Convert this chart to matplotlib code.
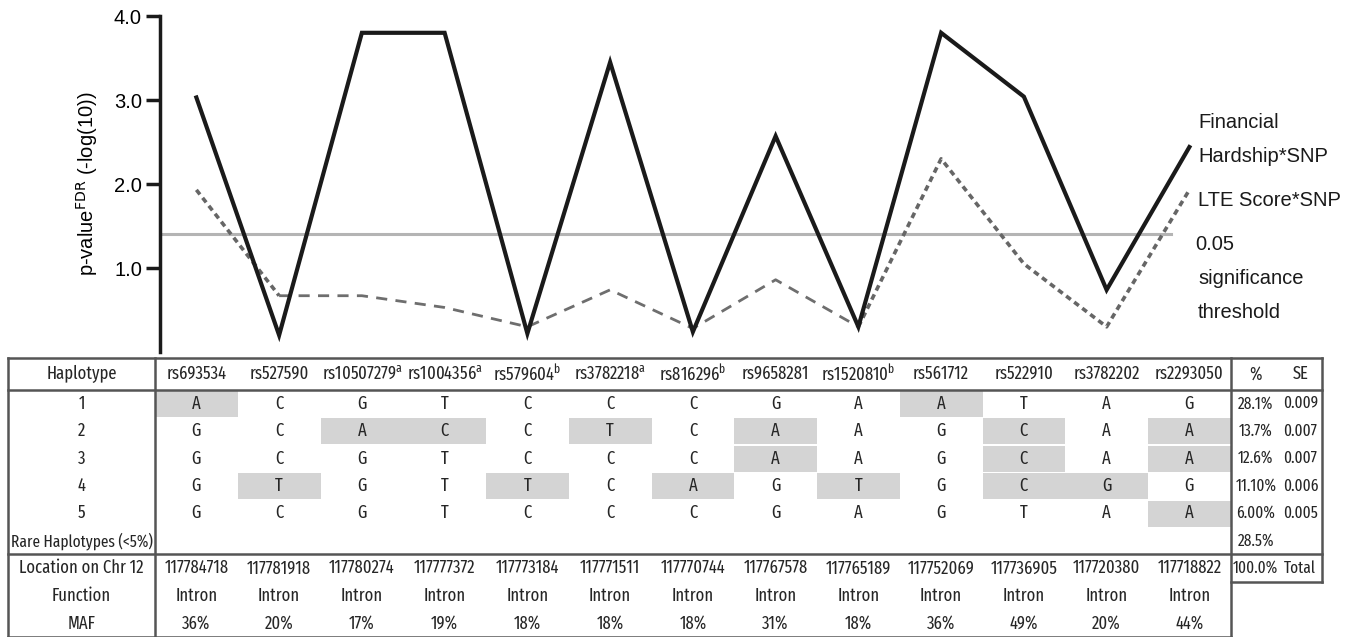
import numpy as np
import matplotlib
matplotlib.use("Agg")
import matplotlib.pyplot as plt
from matplotlib.patches import Rectangle

# ---- data ----
snps = ["rs693534", "rs527590", "rs10507279", "rs1004356", "rs579604", "rs3782218",
        "rs816296", "rs9658281", "rs1520810", "rs561712", "rs522910", "rs3782202", "rs2293050"]
snp_notes = ["", "", "a", "a", "b", "a", "b", "", "b", "", "", "", ""]
financial = [3.03, 0.2, 3.8, 3.8, 0.22, 3.45, 0.24, 2.57, 0.3, 3.8, 3.04, 0.74, 2.44]
lte_score = [1.93, 0.67, 0.67, 0.53, 0.3, 0.74, 0.28, 0.86, 0.3, 2.3, 1.05, 0.3, 1.93]
threshold = 1.4

haplotypes = [
    ["A", "C", "G", "T", "C", "C", "C", "G", "A", "A", "T", "A", "G"],
    ["G", "C", "A", "C", "C", "T", "C", "A", "A", "G", "C", "A", "A"],
    ["G", "C", "G", "T", "C", "C", "C", "A", "A", "G", "C", "A", "A"],
    ["G", "T", "G", "T", "T", "C", "A", "G", "T", "G", "C", "G", "G"],
    ["G", "C", "G", "T", "C", "C", "C", "G", "A", "G", "T", "A", "A"],
]
major_allele = ["G", "C", "G", "T", "C", "C", "C", "G", "A", "G", "T", "A", "G"]
row_labels = ["1", "2", "3", "4", "5", "Rare Haplotypes (<5%)"]
hap_pct = ["28.1%", "13.7%", "12.6%", "11.10%", "6.00%", "28.5%"]
hap_se = ["0.009", "0.007", "0.007", "0.006", "0.005", ""]
location = ["117784718", "117781918", "117780274", "117777372", "117773184", "117771511",
            "117770744", "117767578", "117765189", "117752069", "117736905", "117720380", "117718822"]
function = ["Intron"] * 13
maf = ["36%", "20%", "17%", "19%", "18%", "18%", "18%", "31%", "18%", "36%", "49%", "20%", "44%"]

tab_family = "Fira Sans Extra Condensed"
plt.rcParams['mathtext.fontset'] = 'custom'
plt.rcParams['mathtext.rm'] = tab_family
plt.rcParams['mathtext.it'] = tab_family
plt.rcParams['font.family'] = ['Liberation Sans', 'DejaVu Sans']

W, H = 1366, 637
fig = plt.figure(figsize=(W / 100, H / 100), dpi=100)

# ---- table (pixel coords) ----
tab = fig.add_axes([0, 0, 1, 1])
tab.set_xlim(0, W)
tab.set_ylim(H, 0)
tab.axis("off")

x_left, x_lab = 8, 155
col_w = 82.75
n = len(snps)
x_snp_end = x_lab + n * col_w
x_pct, x_end = x_snp_end + 48, 1322
y_top, y_head = 358, 390
row_h = 27.4
y_sep = y_head + 6 * row_h
low_h = 27.6
y_bot = y_sep + 3 * low_h
y_box = y_sep + low_h

tfont = dict(family=[tab_family, 'DejaVu Sans'], fontsize=13, color="#262626")
small = {**tfont, "fontsize": 12}
lc = "#555555"

col_c = [x_lab + (i + 0.5) * col_w for i in range(n)]
lab_c = (x_left + x_lab) / 2
pct_c = (x_snp_end + x_pct) / 2 + 1
se_c = (x_pct + x_end) / 2

# shading of minor alleles
for r, hap in enumerate(haplotypes):
    for c, a in enumerate(hap):
        if a != major_allele[c]:
            tab.add_patch(Rectangle((x_lab + c * col_w, y_head + r * row_h + 1), col_w, row_h - 1.5,
                                    facecolor="#d4d4d4", edgecolor="none"))

# lines
lw = 1.8
tab.plot([x_left, x_end], [y_top, y_top], color=lc, lw=lw)
tab.plot([x_left, x_end], [y_head, y_head], color=lc, lw=lw)
tab.plot([x_left, x_end], [y_sep, y_sep], color=lc, lw=lw)
tab.plot([x_snp_end, x_end], [y_box, y_box], color=lc, lw=lw)
tab.plot([x_left, x_snp_end], [y_bot, y_bot], color=lc, lw=lw)
tab.plot([x_left, x_left], [y_top, y_bot], color=lc, lw=lw)
tab.plot([x_lab, x_lab], [y_top, y_bot], color=lc, lw=lw)
tab.plot([x_snp_end, x_snp_end], [y_top, y_bot], color=lc, lw=lw)
tab.plot([x_end, x_end], [y_top, y_box], color=lc, lw=lw)

# header
yh = (y_top + y_head) / 2
tab.text(lab_c, yh, "Haplotype", ha="center", va="center", **tfont)
for c, (s, note) in enumerate(zip(snps, snp_notes)):
    lbl = s + (r"$^{\mathrm{%s}}$" % note if note else "")
    tab.text(col_c[c], yh, lbl, ha="center", va="center", **tfont)
tab.text(pct_c, yh, "%", ha="center", va="center", **tfont)
tab.text(se_c, yh, "SE", ha="center", va="center", **tfont)

# haplotype rows
for r, lab in enumerate(row_labels):
    yc = y_head + (r + 0.5) * row_h
    tab.text(lab_c, yc, lab, ha="center", va="center", **(small if len(lab) > 5 else tfont))
    if r < len(haplotypes):
        for c, a in enumerate(haplotypes[r]):
            tab.text(col_c[c], yc, a, ha="center", va="center", **tfont)
    tab.text(pct_c, yc, hap_pct[r], ha="center", va="center", **small)
    tab.text(se_c, yc, hap_se[r], ha="center", va="center", **small)

# lower rows
for k, (lab, vals) in enumerate([("Location on Chr 12", location), ("Function", function), ("MAF", maf)]):
    yc = y_sep + (k + 0.5) * low_h
    tab.text(lab_c, yc, lab, ha="center", va="center", **tfont)
    for c, v in enumerate(vals):
        tab.text(col_c[c], yc, v, ha="center", va="center", **tfont)
tab.text(pct_c, y_sep + 0.5 * low_h, "100.0%", ha="center", va="center", **small)
tab.text(se_c, y_sep + 0.5 * low_h, "Total", ha="center", va="center", **small)

# ---- line chart ----
ax_l, ax_r, ax_t, ax_b = 160, x_snp_end, 16, 352
ax = fig.add_axes([ax_l / W, 1 - ax_b / H, (ax_r - ax_l) / W, (ax_b - ax_t) / H])
ax.patch.set_alpha(0)
x = np.arange(n)
x0 = (ax_l - col_c[0]) / col_w
x1 = (ax_r - col_c[0]) / col_w
ax.set_xlim(x0, x1)
ax.set_ylim(0, 4.0)

ax.plot([x0, 11.78], [threshold, threshold], color="#b4b4b4", lw=2.2, zorder=1)
ax.plot(x, financial, color="#1a1a1a", lw=3, solid_joinstyle="miter", zorder=3, clip_on=False)
ax.plot(x[:2], lte_score[:2], color="#666666", lw=2.6, dashes=(1.6, 1.2), zorder=2, clip_on=False)
ax.plot(x[1:9], lte_score[1:9], color="#6e6e6e", lw=2, dashes=(4, 3), zorder=2, clip_on=False)
ax.plot(x[8:], lte_score[8:], color="#666666", lw=2.6, dashes=(1.6, 1.2), zorder=2, clip_on=False)

for sp in ["top", "right", "bottom"]:
    ax.spines[sp].set_visible(False)
ax.spines["left"].set_linewidth(2.5)
ax.spines["left"].set_color("#1a1a1a")
ax.set_xticks([])
ax.set_yticks([1.0, 2.0, 3.0, 4.0])
ax.set_yticklabels(["1.0", "2.0", "3.0", "4.0"])
ax.tick_params(axis="y", length=10, width=2.5, color="#1a1a1a", labelsize=14.5, pad=3)
ax.set_ylabel(r"p-value$^{\mathsf{FDR}}$ (-log(10))", fontsize=14.5, labelpad=10)

# right-hand annotations
ty = 1 - np.array([123, 157, 201, 245, 279, 313]) / H
for txt, yy, xx in zip(["Financial", "Hardship*SNP", "LTE Score*SNP", "0.05", "significance", "threshold"],
                       ty, [1198, 1198, 1198, 1195, 1198, 1198]):
    fig.text(xx / W, yy, txt, ha="left", va="center", fontsize=14.5, color="#1a1a1a")

fig.savefig("out.png", dpi=100)
